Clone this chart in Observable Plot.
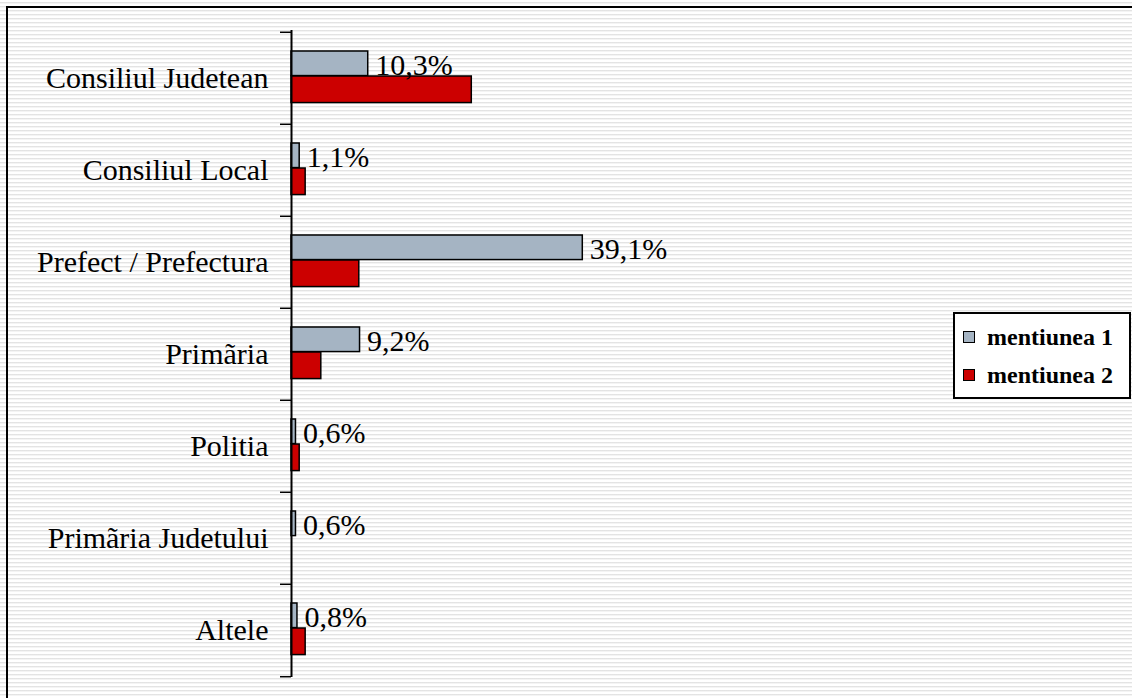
<!DOCTYPE html>
<html><head><meta charset="utf-8">
<script src="https://cdn.jsdelivr.net/npm/d3@7"></script>
<script src="https://cdn.jsdelivr.net/npm/@observablehq/plot@0.6"></script>
<style>
html,body{margin:0;padding:0}
body{width:1132px;height:698px;overflow:hidden;position:relative;font-family:"Liberation Serif","Times New Roman",serif;
background:repeating-linear-gradient(to bottom,#ffffff 0px,#ffffff 2px,#dedede 2px,#e9e9e9 3px,#ffffff 4px);}
#frame{position:absolute;left:6px;top:6px;width:2000px;height:2000px;border-left:2px solid #000;border-top:2px solid #000;}
#chart{position:absolute;left:0;top:0;}
#legend{position:absolute;left:953px;top:312px;width:166px;height:79px;border:2px solid #000;background:#fff;padding:4px 0 0 8px;box-sizing:content-box;}
.item{display:flex;align-items:center;height:38px;font-weight:bold;font-size:24px;font-family:"Liberation Serif","Times New Roman",serif;}
.sw{width:10px;height:10px;border:1px solid #000;margin-right:12px;}
</style></head>
<body>
<div id="frame"></div>
<div id="chart"></div>
<div id="legend"></div>
<script>
const categories = ["Consiliul Judetean","Consiliul Local","Prefect / Prefectura","Primãria","Politia","Primãria Judetului","Altele"];
const series = ["mentiunea 1","mentiunea 2"];
const mentiunea1 = [10.3,1.1,39.1,9.2,0.6,0.6,0.8];
const mentiunea2 = [24.2,1.9,9.1,4.0,1.1,0,1.9];
const colors = ["#a5b4c3","#cc0000"];

const rows1 = categories.map((c,i)=>({category:c, series:series[0], value:mentiunea1[i]}));
const rows2 = categories.map((c,i)=>({category:c, series:series[1], value:mentiunea2[i]})).filter(d=>d.value>0);
const fmt = v => v.toFixed(1).replace(".", ",") + "%";

const W = 1132, H = 698, mt = 30, mb = 21, ml = 291;
const bw = (H - mt - mb) / categories.length;
const font = "'Liberation Serif', 'Times New Roman', serif";

const chart = Plot.plot({
  width: W, height: H,
  marginTop: mt, marginBottom: mb, marginLeft: ml, marginRight: W - ml - 372.5,
  x: {domain: [0, 50], axis: null},
  y: {domain: categories, padding: 0, label: null},
  style: {background: "transparent", fontFamily: font, fontSize: "30px", color: "black", overflow: "visible"},
  marks: [
    Plot.barX(rows1, {x: "value", y: "category", fill: colors[0], stroke: "black", strokeWidth: 1.5, insetTop: 19, insetBottom: bw - 44}),
    Plot.barX(rows2, {x: "value", y: "category", fill: colors[1], stroke: "black", strokeWidth: 1.5, insetTop: 44, insetBottom: bw - 71}),
    Plot.text(rows1, {x: "value", y: "category", text: d => fmt(d.value), textAnchor: "start", dx: 7, dy: -13, fontSize: 30, fontFamily: font, fill: "black"}),
    Plot.ruleX([0], {stroke: "black", strokeWidth: 2}),
    Plot.axisY({tickSize: 0, tickPadding: 23, fontSize: 30, fontFamily: font, label: null}),
    Plot.axisY({tickSize: 11, tickFormat: () => "", dy: -bw / 2, label: null, strokeWidth: 1.5}),
    Plot.axisY({ticks: [categories[categories.length - 1]], tickSize: 11, tickFormat: () => "", dy: bw / 2, label: null, strokeWidth: 1.5})
  ]
});
document.getElementById("chart").appendChild(chart);

const legend = document.getElementById("legend");
series.forEach((s, i) => {
  const it = document.createElement("div");
  it.className = "item";
  const sw = document.createElement("div");
  sw.className = "sw";
  sw.style.background = colors[i];
  const t = document.createElement("span");
  t.textContent = s;
  it.appendChild(sw); it.appendChild(t);
  legend.appendChild(it);
});
</script>
</body></html>
